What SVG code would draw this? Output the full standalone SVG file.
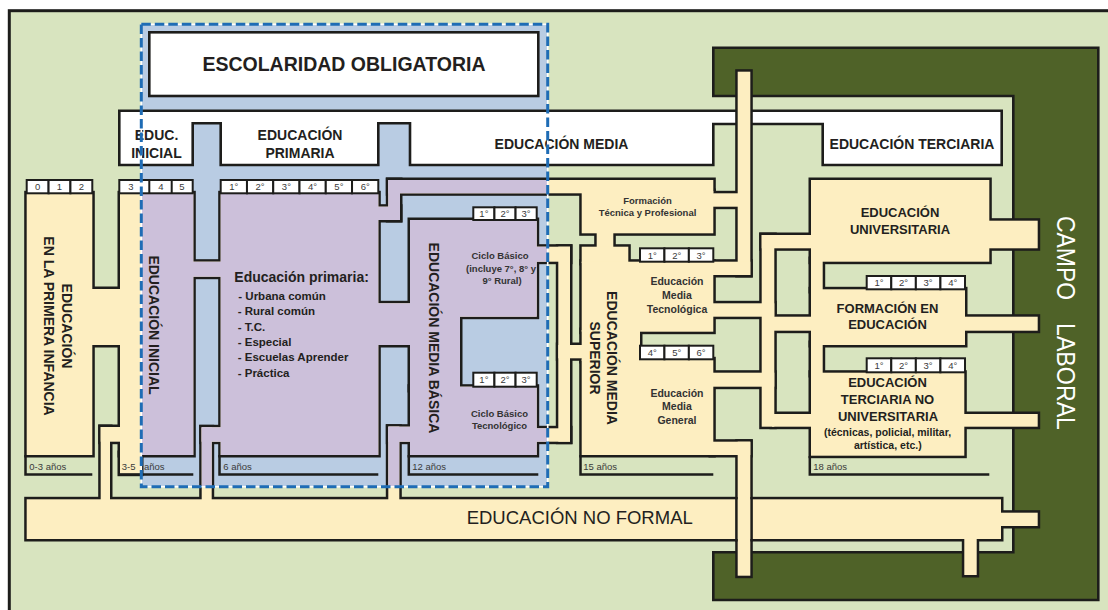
<svg xmlns="http://www.w3.org/2000/svg" xmlns:xlink="http://www.w3.org/1999/xlink" width="1108" height="610" viewBox="0 0 1108 610">
<style>
.t{font-family:"Liberation Sans",Arial,Helvetica,sans-serif;fill:#231f20}
.b{font-weight:bold}
.h{font-size:14px;font-weight:bold;text-anchor:middle}
.m{text-anchor:middle}
.cell{fill:#fff;stroke:#1d1d1b;stroke-width:2}
.ct{font-family:"Liberation Sans",Arial,sans-serif;font-size:9.5px;text-anchor:middle;fill:#3a3a3a}
.age{font-family:"Liberation Sans",Arial,sans-serif;font-size:9.5px;fill:#3a3a3a}
.ln{fill:none;stroke:#1d1d1b;stroke-width:2.5}
</style>
<defs>
<clipPath id="ob"><rect x="141.3" y="24.3" width="406.4" height="462.4"/></clipPath>
<g id="R">
<rect x="26.7" y="193.3" width="65.6" height="261.7"/>
<rect x="90" y="289" width="32" height="56"/>
<rect x="120" y="193.3" width="73.3" height="261.7"/>
<rect x="120" y="453" width="21" height="20.7"/>
<rect x="100.7" y="427" width="21.3" height="14.7"/>
<rect x="100.7" y="427" width="9.3" height="74"/>
<rect x="26.7" y="499.3" width="974.3" height="39.7"/>
<rect x="999" y="512.7" width="38.7" height="13.3"/>
<rect x="964.3" y="537" width="12.4" height="38"/>
<rect x="220.7" y="193.3" width="157.6" height="261.7"/>
<rect x="191" y="261.7" width="31" height="15"/>
<rect x="201.7" y="427.3" width="20.3" height="14.4"/>
<rect x="201.7" y="427.3" width="10" height="73.7"/>
<rect x="376" y="206.7" width="24" height="13.3"/>
<rect x="376" y="303.3" width="36" height="41.7"/>
<rect x="388.3" y="180" width="325" height="13.3"/>
<rect x="388.3" y="180" width="11.7" height="40"/>
<rect x="410" y="220" width="126.7" height="96.7"/>
<rect x="410" y="314" width="50" height="76"/>
<rect x="410" y="386.7" width="126.7" height="68.3"/>
<rect x="534" y="246.7" width="36" height="15"/>
<rect x="558.3" y="246.7" width="11.7" height="195"/>
<rect x="534" y="428.3" width="36" height="13.4"/>
<rect x="388.3" y="426.7" width="23.7" height="15"/>
<rect x="388.3" y="426.7" width="11" height="74.3"/>
<rect x="581.7" y="191" width="131.6" height="42.3"/>
<rect x="711" y="193.3" width="29" height="13.4"/>
<rect x="737.7" y="71.7" width="12.6" height="203.3"/>
<rect x="711" y="261.7" width="39.3" height="13.3"/>
<rect x="596.7" y="231" width="16.6" height="18"/>
<rect x="581.7" y="246.7" width="46.6" height="16.3"/>
<rect x="581.7" y="261.7" width="131.6" height="70"/>
<rect x="581.7" y="330" width="58.3" height="31"/>
<rect x="581.7" y="359.3" width="131.6" height="95.7"/>
<rect x="558.3" y="345" width="24.7" height="13.3"/>
<rect x="711" y="303.3" width="63.3" height="13.4"/>
<rect x="711" y="372.7" width="63.3" height="14"/>
<rect x="711" y="441.7" width="39.3" height="13.3"/>
<rect x="737.7" y="441.7" width="12.6" height="134"/>
<rect x="761.7" y="235" width="12.6" height="191.7"/>
<rect x="761.7" y="235" width="51.3" height="13.3"/>
<rect x="811" y="180" width="178.3" height="81.7"/>
<rect x="987" y="220.7" width="50.7" height="27.6"/>
<rect x="811" y="259" width="11.7" height="32"/>
<rect x="811" y="289.3" width="154" height="55.7"/>
<rect x="963" y="316.7" width="74.7" height="14"/>
<rect x="772" y="316.7" width="41" height="14"/>
<rect x="811" y="343" width="11.7" height="32"/>
<rect x="811" y="372.7" width="153.3" height="83"/>
<rect x="962" y="414" width="75.7" height="12.7"/>
<rect x="772" y="414" width="41" height="12.7"/>
</g>
</defs>

<rect x="0" y="0" width="1108" height="610" fill="#ffffff"/>
<g id="frame">
<rect x="9.3" y="10.7" width="1110" height="610" fill="#d8e4bf" stroke="#1d1d1b" stroke-width="3"/>
<rect x="141.3" y="24.3" width="406.4" height="462.4" fill="#b9cce3"/>
</g>

<g id="campo-laboral">
<path d="M713.3,47.7 H1098.3 V600 H713.3 V552.3 H1013.3 V96 H713.3 Z" fill="#4f6228" stroke="#1d1d1b" stroke-width="2.6"/>
<text class="t" transform="translate(1056.7,216) rotate(90)" style="fill:#ffffff;font-size:26px"><tspan x="0" textLength="84" lengthAdjust="spacingAndGlyphs">CAMPO</tspan> <tspan x="107" textLength="107" lengthAdjust="spacingAndGlyphs">LABORAL</tspan></text>
</g>

<g id="header">
<polygon points="119.3,110.7 1001.7,110.7 1001.7,165 822.7,165 822.7,124 713.3,124 713.3,165 410,165 410,123.3 378.3,123.3 378.3,165 220.7,165 220.7,123.3 192.7,123.3 192.7,165 119.3,165" fill="#ffffff" stroke="#1d1d1b" stroke-width="2.6"/>
</g>

<g id="escolaridad">
<rect x="149.3" y="32.3" width="389" height="63.7" fill="#ffffff" stroke="#1d1d1b" stroke-width="2.6"/>
<text class="t b m" x="344" y="71" style="font-size:19.5px">ESCOLARIDAD OBLIGATORIA</text>
</g>

<g id="sistema">
<use xlink:href="#R" href="#R" fill="none" stroke="#1d1d1b" stroke-width="5"/>
<use xlink:href="#R" href="#R" fill="#fdeec1"/>
<use xlink:href="#R" href="#R" fill="#ccc0da" clip-path="url(#ob)"/>
<path class="ln" d="M736.4,497 V541.5 M751.6,497 V541.5"/>
</g>

<g id="age-lines">
<path class="ln" d="M25.5,455 V474.5 H92.3"/>
<path class="ln" d="M118.8,474.5 H193.3"/>
<path class="ln" d="M219.5,455 V474.5 H378.3"/>
<path class="ln" d="M408.8,455 V474.5 H538.3"/>
<path class="ln" d="M580.5,455 V474.5 H713.3"/>
<path class="ln" d="M809.8,456 V474.5 H989.3"/>
<text class="age" x="29.3" y="470">0-3 años</text>
<text class="age" x="121.7" y="470"><tspan>3-5</tspan> <tspan x="144">años</tspan></text>
<text class="age" x="223.3" y="470">6 años</text>
<text class="age" x="412.3" y="470">12 años</text>
<text class="age" x="583.3" y="470">15 años</text>
<text class="age" x="813.3" y="470">18 años</text>
</g>

<g id="celdas">
<rect class="cell" x="26.7" y="180" width="21.87" height="13.3"/>
<rect class="cell" x="48.57" y="180" width="21.86" height="13.3"/>
<rect class="cell" x="70.43" y="180" width="21.87" height="13.3"/>
<text class="ct" x="37.6" y="190.3">0</text><text class="ct" x="59.5" y="190.3">1</text><text class="ct" x="81.4" y="190.3">2</text>
<rect class="cell" x="119.3" y="180" width="73.4" height="13.3"/>
<path d="M149.3,180 V193.3 M171.7,180 V193.3" stroke="#1d1d1b" stroke-width="2"/>
<text class="ct" x="131" y="190.3">3</text><text class="ct" x="161" y="190.3">4</text><text class="ct" x="182" y="190.3">5</text>
<rect class="cell" x="220.7" y="180" width="26.27" height="13.3"/>
<rect class="cell" x="246.97" y="180" width="26.27" height="13.3"/>
<rect class="cell" x="273.23" y="180" width="26.27" height="13.3"/>
<rect class="cell" x="299.5" y="180" width="26.27" height="13.3"/>
<rect class="cell" x="325.77" y="180" width="26.27" height="13.3"/>
<rect class="cell" x="352.03" y="180" width="26.27" height="13.3"/>
<text class="ct" x="233.8" y="190.3">1°</text><text class="ct" x="260.1" y="190.3">2°</text><text class="ct" x="286.4" y="190.3">3°</text><text class="ct" x="312.6" y="190.3">4°</text><text class="ct" x="338.9" y="190.3">5°</text><text class="ct" x="365.2" y="190.3">6°</text>
<rect class="cell" x="473.3" y="207.3" width="21.13" height="12.7"/>
<rect class="cell" x="494.43" y="207.3" width="21.13" height="12.7"/>
<rect class="cell" x="515.57" y="207.3" width="21.13" height="12.7"/>
<text class="ct" x="483.9" y="217.2">1°</text><text class="ct" x="505" y="217.2">2°</text><text class="ct" x="526.1" y="217.2">3°</text>
<rect class="cell" x="473.3" y="372.7" width="21.13" height="14"/>
<rect class="cell" x="494.43" y="372.7" width="21.13" height="14"/>
<rect class="cell" x="515.57" y="372.7" width="21.13" height="14"/>
<text class="ct" x="483.9" y="383.2">1°</text><text class="ct" x="505" y="383.2">2°</text><text class="ct" x="526.1" y="383.2">3°</text>
<rect class="cell" x="640" y="248.3" width="24.43" height="13.4"/>
<rect class="cell" x="664.43" y="248.3" width="24.43" height="13.4"/>
<rect class="cell" x="688.87" y="248.3" width="24.43" height="13.4"/>
<text class="ct" x="652.2" y="258.6">1°</text><text class="ct" x="676.7" y="258.6">2°</text><text class="ct" x="701.1" y="258.6">3°</text>
<rect class="cell" x="640" y="345.7" width="24.43" height="13.6"/>
<rect class="cell" x="664.43" y="345.7" width="24.43" height="13.6"/>
<rect class="cell" x="688.87" y="345.7" width="24.43" height="13.6"/>
<text class="ct" x="652.2" y="356">4°</text><text class="ct" x="676.7" y="356">5°</text><text class="ct" x="701.1" y="356">6°</text>
<rect class="cell" x="866.7" y="276" width="24.58" height="13.3"/>
<rect class="cell" x="891.28" y="276" width="24.58" height="13.3"/>
<rect class="cell" x="915.85" y="276" width="24.58" height="13.3"/>
<rect class="cell" x="940.43" y="276" width="24.58" height="13.3"/>
<text class="ct" x="879" y="286.3">1°</text><text class="ct" x="903.6" y="286.3">2°</text><text class="ct" x="928.1" y="286.3">3°</text><text class="ct" x="952.7" y="286.3">4°</text>
<rect class="cell" x="866.7" y="358.3" width="24.58" height="14"/>
<rect class="cell" x="891.28" y="358.3" width="24.58" height="14"/>
<rect class="cell" x="915.85" y="358.3" width="24.58" height="14"/>
<rect class="cell" x="940.43" y="358.3" width="24.58" height="14"/>
<text class="ct" x="879" y="368.8">1°</text><text class="ct" x="903.6" y="368.8">2°</text><text class="ct" x="928.1" y="368.8">3°</text><text class="ct" x="952.7" y="368.8">4°</text>
</g>

<g id="header-labels">
<text class="t h" x="156.5" y="140">EDUC.</text>
<text class="t h" x="156.5" y="158">INICIAL</text>
<text class="t h" x="300" y="140">EDUCACIÓN</text>
<text class="t h" x="300" y="158">PRIMARIA</text>
<text class="t h" x="561.5" y="149">EDUCACIÓN MEDIA</text>
<text class="t h" x="912" y="149">EDUCACIÓN TERCIARIA</text>
</g>

<g id="infancia">
<text class="t h" transform="translate(62,326) rotate(90)"><tspan x="0" y="0">EDUCACIÓN</tspan><tspan x="0" y="18">EN LA PRIMERA INFANCIA</tspan></text>
</g>
<g id="inicial">
<text class="t h" transform="translate(149,325) rotate(90)">EDUCACIÓN INICIAL</text>
</g>
<g id="primaria">
<text class="t b" x="234.3" y="281.7" style="font-size:14px">Educación primaria:</text>
<g class="t b" style="font-size:11.5px">
<text x="238.3" y="300">- Urbana común</text>
<text x="237.7" y="315.3">- Rural común</text>
<text x="237.7" y="330.6">- T.C.</text>
<text x="237.7" y="345.9">- Especial</text>
<text x="237.7" y="361.2">- Escuelas Aprender</text>
<text x="237.7" y="376.5">- Práctica</text>
</g>
</g>
<g id="media-basica">
<text class="t h" transform="translate(428.5,338) rotate(90)">EDUCACIÓN MEDIA BÁSICA</text>
<g class="t b m" style="font-size:9.5px;fill:#333">
<text x="500" y="259">Ciclo Básico</text>
<text x="501" y="271.7">(incluye 7°, 8° y</text>
<text x="502" y="283.5">9° Rural)</text>
<text x="499.5" y="417.3">Ciclo Básico</text>
<text x="499.5" y="429">Tecnológico</text>
</g>
</g>
<g id="media-superior">
<text class="t h" transform="translate(607,358) rotate(90)"><tspan x="0" y="0">EDUCACIÓN MEDIA</tspan><tspan x="0" y="17.5">SUPERIOR</tspan></text>
<g class="t b m" style="font-size:9.5px;fill:#333">
<text x="647.5" y="204">Formación</text>
<text x="647.5" y="215.7">Técnica y Profesional</text>
</g>
<g class="t b m" style="font-size:10.5px;fill:#333">
<text x="677" y="285">Educación</text>
<text x="677" y="299.3">Media</text>
<text x="677" y="312.7">Tecnológica</text>
<text x="677" y="396.7">Educación</text>
<text x="677" y="410.3">Media</text>
<text x="677" y="424">General</text>
</g>
</g>
<g id="universitaria">
<text class="t b m" x="900" y="216.7" style="font-size:13px">EDUCACIÓN</text>
<text class="t b m" x="900" y="234" style="font-size:13px">UNIVERSITARIA</text>
</g>
<g id="formacion-educacion">
<text class="t b m" x="887.5" y="312.7" style="font-size:13px">FORMACIÓN EN</text>
<text class="t b m" x="887.5" y="329.3" style="font-size:13px">EDUCACIÓN</text>
</g>
<g id="terciaria-no-universitaria">
<text class="t b m" x="887.5" y="387.3" style="font-size:13px">EDUCACIÓN</text>
<text class="t b m" x="887.5" y="404.3" style="font-size:13px">TERCIARIA NO</text>
<text class="t b m" x="888" y="420.7" style="font-size:13px">UNIVERSITARIA</text>
<text class="t b m" x="887.5" y="436" style="font-size:10.5px">(técnicas, policial, militar,</text>
<text class="t b m" x="887.8" y="449.3" style="font-size:10.5px">artística, etc.)</text>
</g>
<g id="no-formal">
<text class="t m" x="579.7" y="524.3" style="font-size:18.5px">EDUCACIÓN NO FORMAL</text>
</g>

<g id="limite-obligatoria">
<rect x="141.3" y="24.3" width="406.4" height="462.4" fill="none" stroke="#ffffff" stroke-width="1.6"/>
<rect x="141.3" y="24.3" width="406.4" height="462.4" fill="none" stroke="#1e6cb5" stroke-width="3" stroke-dasharray="9.5 4"/>
</g>
</svg>
